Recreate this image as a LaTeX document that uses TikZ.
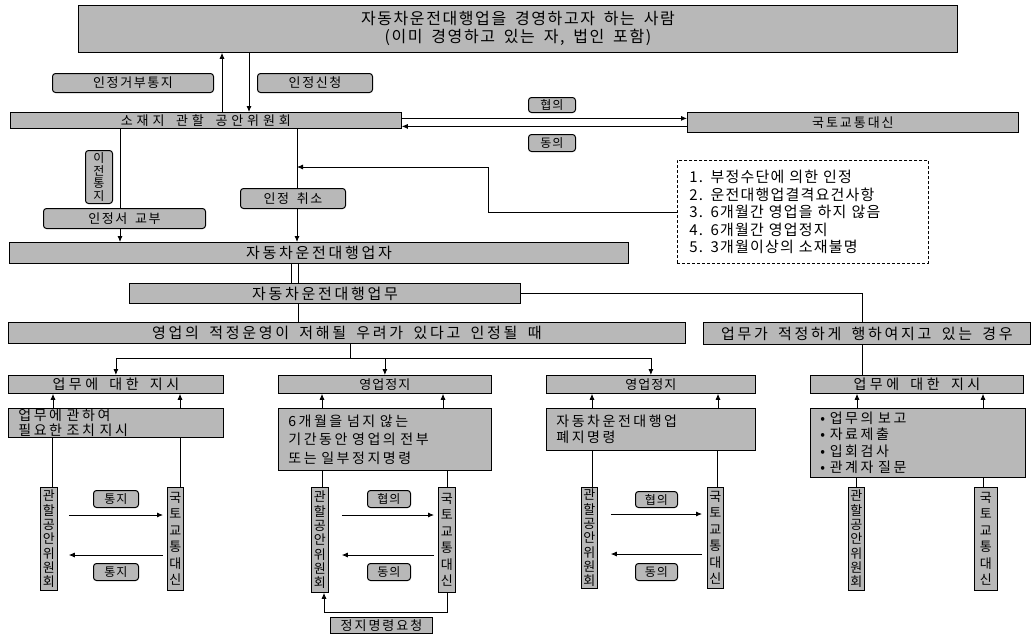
\documentclass[tikz,border=0pt]{standalone}
\usepackage{fontspec}
\setmainfont[WordSpace=1.7]{Noto Sans CJK KR}
\usetikzlibrary{arrows.meta}
\pgfdeclarelayer{bg}
\pgfsetlayers{bg,main}
\newcommand\kf[3]{\fontsize{#1}{#2}\selectfont\addfontfeatures{LetterSpace=#3}}
\newcommand\bx[7][gbox]{\node[#1,anchor=north west,minimum width={(#5-#3)*1pt},minimum height={(#6-#4)*1pt}] (#2) at (#3,#4) {#7};}
\tikzset{
  gbox/.style={draw, line width=0.8pt, fill=black!28, inner sep=1pt},
  tbox/.style={gbox, align=center, font={\kf{16}{18}{10}}},
  mbox/.style={gbox, font={\kf{13}{14}{30}}},
  ebox/.style={gbox, font={\kf{15}{16}{18}}},
  rboxw/.style={gbox, font={\kf{14}{15}{25}}},
  rboxn/.style={gbox, font={\kf{13}{14}{8}}},
  cbox/.style={gbox, align=left, inner xsep=10pt, font={\kf{14}{15}{18}}},
  vbox/.style={gbox, align=center, inner sep=0pt, font={\kf{13}{14.3}{0}}},
  lbl/.style={gbox, rounded corners=3pt, line width=1pt, font={\kf{13}{14}{12}}},
  slbl/.style={lbl, font={\kf{12}{12}{8}}},
  dbox/.style={draw, dashed, dash pattern=on 3pt off 2pt, line width=0.8pt, fill=white, align=left, inner xsep=12pt, font={\kf{15}{17.5}{8}}},
  ln/.style={line width=0.8pt},
  arr/.style={ln, -{Latex[length=6pt,width=5pt]}}
}
\begin{document}
\begin{tikzpicture}[x=1pt,y=-1pt]
\useasboundingbox (0,0) rectangle (1036,640);
% top part
\bx[tbox]{top}{78}{5}{957}{52}{자동차운전대행업을 경영하고자 하는 사람\\(이미 경영하고 있는 자, 법인 포함)}
\bx[lbl]{rej}{52}{73}{213}{92}{인정거부통지}
\bx[lbl]{app}{257}{73}{372}{92}{인정신청}
\bx[mbox]{soj}{10}{112}{401}{128}{소재지 관할 공안위원회}
\bx[mbox,font={\kf{13}{14}{15}}]{kt}{687}{112}{1018}{132}{국토교통대신}
\bx[slbl]{hy0}{528}{97}{575}{112}{협의}
\bx[slbl]{dy0}{528}{134}{575}{151}{동의}
\bx[lbl,align=center,inner sep=0pt,font={\kf{12}{12.5}{0}}]{ij}{85}{150}{112}{203}{이\\전\\통\\지}
\bx[lbl]{cert}{43}{208}{205}{228}{인정서 교부}
\bx[lbl]{cancel}{240}{188}{345}{208}{인정 취소}
\node[dbox,anchor=north west,minimum width=251pt,minimum height=103pt,text width=227pt] (dsh) at (677,160)
  {1. 부정수단에 의한 인정\\2. 운전대행업결격요건사항\\3. 6개월간 영업을 하지 않음\\4. 6개월간 영업정지\\5. 3개월이상의 소재불명};
\bx[ebox]{emp}{9}{242}{628}{263}{자동차운전대행업자}
\bx[ebox]{task}{129}{283}{520}{303}{자동차운전대행업무}
\bx[ebox]{cond1}{8}{322}{685}{343}{영업의 적정운영이 저해될 우려가 있다고 인정될 때}
\bx[ebox]{cond2}{703}{322}{1030}{344}{업무가 적정하게 행하여지고 있는 경우}
% row boxes
\bx[rboxw]{r1}{8}{375}{223}{393}{업무에 대한 지시}
\bx[rboxn]{r2}{278}{375}{491}{393}{영업정지}
\bx[rboxn]{r3}{546}{375}{755}{393}{영업정지}
\bx[rboxw]{r4}{810}{375}{1023}{393}{업무에 대한 지시}
% content boxes
\bx[cbox,text width=195pt,font={\kf{14}{14.5}{18}}]{c1}{8}{408}{223}{437}{업무에 관하여\\필요한 조치 지시}
\bx[cbox,text width=193pt,font={\kf{14}{18.5}{18}}]{c2}{278}{408}{491}{470}{6개월을 넘지 않는\\기간동안 영업의 전부\\또는 일부정지명령}
\bx[cbox,text width=189pt,font={\kf{14}{15.5}{18}}]{c3}{546}{408}{755}{450}{자동차운전대행업\\폐지명령}
\bx[cbox,text width=195pt,font={\kf{14}{16.3}{18}}]{c4}{810}{408}{1025}{477}{• 업무의 보고\\• 자료제출\\• 입회검사\\• 관계자 질문}
% vertical boxes
\bx[vbox]{k1}{40}{487}{57}{590}{관\\할\\공\\안\\위\\원\\회}
\bx[vbox,font={\kf{13}{16.5}{0}}]{g1}{167}{487}{183}{590}{국\\토\\교\\통\\대\\신}
\bx[vbox]{k2}{311}{487}{328}{592}{관\\할\\공\\안\\위\\원\\회}
\bx[vbox,font={\kf{13}{16.5}{0}}]{g2}{438}{487}{455}{592}{국\\토\\교\\통\\대\\신}
\bx[vbox]{k3}{581}{487}{597}{588}{관\\할\\공\\안\\위\\원\\회}
\bx[vbox,font={\kf{13}{16.5}{0}}]{g3}{707}{487}{723}{588}{국\\토\\교\\통\\대\\신}
\bx[vbox]{k4}{848}{487}{864}{590}{관\\할\\공\\안\\위\\원\\회}
\bx[vbox,font={\kf{13}{16.5}{0}}]{g4}{974}{487}{997}{590}{국\\토\\교\\통\\대\\신}
% small labels
\bx[slbl]{t1}{93}{490}{138}{507}{통지}
\bx[slbl]{t2}{93}{563}{138}{580}{통지}
\bx[slbl]{h2}{367}{490}{410}{507}{협의}
\bx[slbl]{d2}{367}{563}{410}{580}{동의}
\bx[slbl]{h3}{635}{491}{677}{507}{협의}
\bx[slbl]{d3}{635}{563}{677}{580}{동의}
\bx[gbox,line width=1pt,font={\kf{13}{14}{15}}]{stop}{330}{617}{432}{633}{정지명령요청}
% connectors
\coordinate (bend) at (488,167);
\coordinate (join) at (297,167);
\coordinate (bus) at (350,358);
\coordinate (sb) at (447,612);
\begin{pgfonlayer}{bg}
\fill[white] (0,0) rectangle (1036,640);
\draw[arr] (soj.north -| 222,0) -- (top.south -| 222,0);
\draw[arr] (top.south -| 249,0) -- (soj.north -| 249,0);
\draw[arr] ([yshift=2pt]soj.east) -- ([yshift=4pt]kt.west);
\draw[arr] ([yshift=-4pt]kt.west) -- ([yshift=-6pt]soj.east);
\draw[arr] (soj.south -| 120,0) -- (emp.north -| 120,0);
\draw[arr] (soj.south -| 297,0) -- (emp.north -| 297,0);
\draw[arr] (dsh.west) -| (bend) -- (join);
\draw[ln] (emp.south -| 291,0) -- (task.north -| 291,0);
\draw[ln] (emp.south -| 298,0) -- (task.north -| 298,0);
\draw[ln] (task.south -| 298,0) -- (cond1.north -| 298,0);
\draw[ln] (task.east) -| (cond2.north -| 862,0);
\draw[ln] (cond2.south -| 862,0) -- (r4.north -| 862,0);
\draw[ln] (cond1.south -| bus) -- (bus);
\draw[arr] (bus) -| (r1.north);
\draw[arr] (bus) -| (r2.north);
\draw[arr] (bus) -| (r3.north);
\foreach \x/\c/\r in {53/c1/r1,180/c1/r1,322/c2/r2,443/c2/r2,592/c3/r3,718/c3/r3,857/c4/r4,983/c4/r4}
  \draw[arr] (\c.north -| \x,0) -- (\r.south -| \x,0);
\foreach \x/\c/\k in {52/c1/k1,180/c1/g1,322/c2/k2,447/c2/g2,592/c3/k3,717/c3/g3,856/c4/k4,983/c4/g4}
  \draw[ln] (\c.south -| \x,0) -- (\k.north -| \x,0);
\draw[arr,shorten <=11pt,shorten >=4pt] (k1.east |- 0,515) -- (g1.west |- 0,515);
\draw[arr,shorten <=4pt,shorten >=11pt] (g1.west |- 0,555) -- (k1.east |- 0,555);
\draw[arr,shorten <=13pt,shorten >=4pt] (k2.east |- 0,515) -- (g2.west |- 0,515);
\draw[arr,shorten <=4pt,shorten >=13pt] (g2.west |- 0,555) -- (k2.east |- 0,555);
\draw[arr,shorten <=13pt,shorten >=5pt] (k3.east |- 0,514) -- (g3.west |- 0,514);
\draw[arr,shorten <=5pt,shorten >=13pt] (g3.west |- 0,554) -- (k3.east |- 0,554);
\draw[arr] (g2.south -| sb) -- (sb) -| (k2.south -| 324,0);
\end{pgfonlayer}
\end{tikzpicture}
\end{document}
